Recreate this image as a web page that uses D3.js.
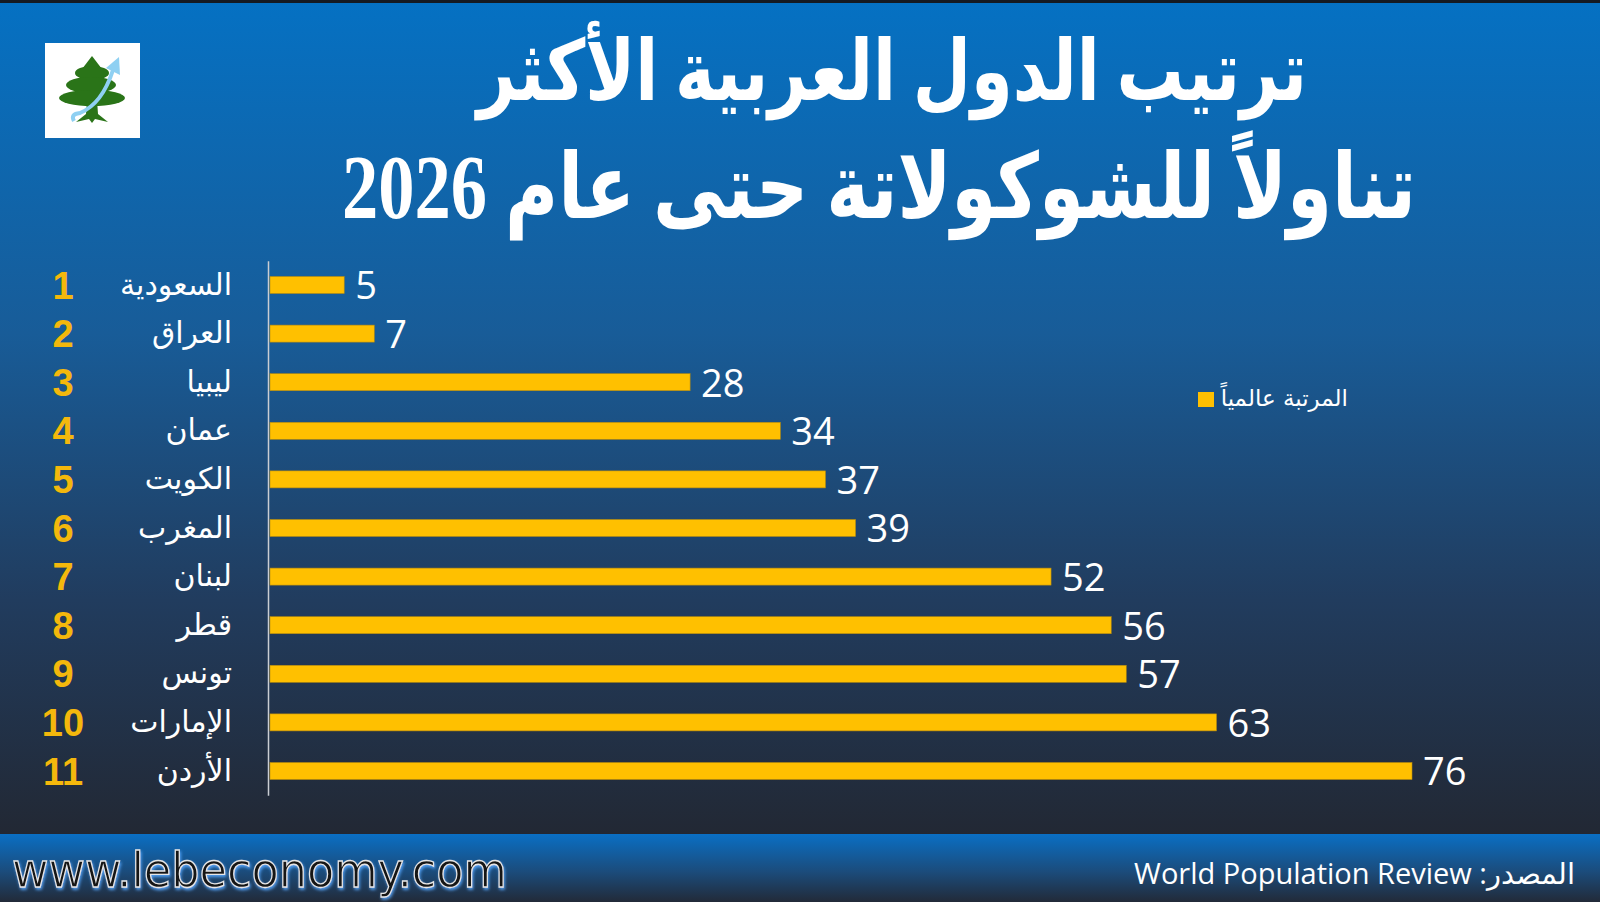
<!DOCTYPE html>
<html>
<head>
<meta charset="utf-8">
<script src="https://cdn.jsdelivr.net/npm/d3@7"></script>
<style>
  body { margin: 0; background: #222a36; }
  svg { display: block; }
</style>
</head>
<body>
<div id="my_dataviz"></div>
<script>
// chart data
const countries = ["السعودية", "العراق", "ليبيا", "عمان", "الكويت", "المغرب", "لبنان", "قطر", "تونس", "الإمارات", "الأردن"];
const ranks = [1, 2, 3, 4, 5, 6, 7, 8, 9, 10, 11];
const worldRank = [5, 7, 28, 34, 37, 39, 52, 56, 57, 63, 76];
const seriesName = "المرتبة عالمياً";
const titleLines = ["ترتيب الدول العربية الأكثر", "تناولاً للشوكولاتة حتى عام 2026"];
const sourceText = "المصدر: World Population Review";
const siteText = "www.lebeconomy.com";

const W = 1600, H = 902;
const gold = "#ffc000";

const svg = d3.select("#my_dataviz")
  .append("svg")
    .attr("width", W)
    .attr("height", H);

// gradients + glow
const defs = svg.append("defs");
const bg = defs.append("linearGradient").attr("id", "bg").attr("x1", 0).attr("y1", 0).attr("x2", 0).attr("y2", 1);
bg.append("stop").attr("offset", "0%").attr("stop-color", "#0571c3");
bg.append("stop").attr("offset", "40%").attr("stop-color", "#185c98");
bg.append("stop").attr("offset", "72%").attr("stop-color", "#213c5e");
bg.append("stop").attr("offset", "100%").attr("stop-color", "#222834");
const foot = defs.append("linearGradient").attr("id", "foot").attr("x1", 0).attr("y1", 0).attr("x2", 0).attr("y2", 1);
foot.append("stop").attr("offset", "0%").attr("stop-color", "#0a6fc4");
foot.append("stop").attr("offset", "55%").attr("stop-color", "#1b4c7c");
foot.append("stop").attr("offset", "100%").attr("stop-color", "#222a38");
const glow = defs.append("filter").attr("id", "glow").attr("x", "-5%").attr("y", "-30%").attr("width", "110%").attr("height", "160%");
glow.append("feDropShadow").attr("dx", 1).attr("dy", 2).attr("stdDeviation", 1.5).attr("flood-color", "#5aa9ff").attr("flood-opacity", 0.9);

svg.append("rect").attr("width", W).attr("height", 834).attr("fill", "url(#bg)");
svg.append("rect").attr("width", W).attr("height", 3).attr("fill", "#151a22");
svg.append("rect").attr("y", 834).attr("width", W).attr("height", H - 834).attr("fill", "url(#foot)");

// logo (cedar with arrow)
const logo = svg.append("g");
logo.append("rect").attr("x", 45).attr("y", 43).attr("width", 95).attr("height", 95).attr("fill", "#ffffff");
const green = "#2a7418";
logo.append("path").attr("d", "M92,56 L102,69 L82,69 Z").attr("fill", green);
logo.append("ellipse").attr("cx", 92).attr("cy", 73).attr("rx", 17).attr("ry", 7).attr("fill", green);
logo.append("ellipse").attr("cx", 91).attr("cy", 85).attr("rx", 25).attr("ry", 8).attr("fill", green);
logo.append("ellipse").attr("cx", 92).attr("cy", 98).attr("rx", 33).attr("ry", 8).attr("fill", green);
logo.append("path").attr("d", "M87,100 L97,100 L98,114 L108,122 L95,119 L92,123 L89,119 L76,122 L86,114 Z").attr("fill", green);
logo.append("path").attr("d", "M74,121 Q70,114 80,113 Q102,104 113,70")
  .attr("fill", "none").attr("stroke", "#8fd0f2").attr("stroke-width", 4);
logo.append("path").attr("d", "M119,57 L120,75 L106,68 Z").attr("fill", "#8fd0f2");

// title, each line sized to the width it takes in the picture, stretched a bit in height
const titlePos = [{x: 892, y: 100, w: 830}, {x: 879, y: 218, w: 1074}];
svg.append("g")
  .attr("fill", "#ffffff")
  .style("font-family", "'Liberation Serif', 'DejaVu Sans', serif")
  .style("font-weight", "bold")
  .selectAll("g")
  .data(titleLines)
  .join("g")
    .attr("transform", (d, i) => `translate(${titlePos[i].x},${titlePos[i].y}) scale(1,1.25)`)
  .append("text")
    .attr("direction", "rtl")
    .attr("text-anchor", "middle")
    .style("font-size", "90px")
    .text(d => d)
    .each(function(d, i) {
      const len = this.getComputedTextLength();
      const fs = Math.min(104, 90 * titlePos[i].w / len);
      d3.select(this).style("font-size", fs + "px");
    });

// scales
const x = d3.scaleLinear()
  .domain([0, 76])
  .range([269, 1412]);

const y = d3.scaleBand()
  .domain(countries)
  .range([260.7, 795.3])
  .paddingInner(0.65)
  .paddingOuter(0.325);

// Y axis with the country names
const yAxis = svg.append("g")
  .attr("transform", "translate(268,0)")
  .call(d3.axisLeft(y).tickSize(0).tickPadding(36));
yAxis.select(".domain").attr("stroke", "#c9cdd3").attr("stroke-width", 1.5);
yAxis.selectAll("text")
  .attr("fill", "#ffffff")
  .style("font-family", "'DejaVu Sans', 'Liberation Sans', sans-serif")
  .style("font-size", "30px");

// rank numbers
svg.append("g")
  .selectAll("text")
  .data(countries)
  .join("text")
    .attr("x", 63)
    .attr("y", d => y(d) + y.bandwidth() / 2)
    .attr("dy", "0.36em")
    .attr("text-anchor", "middle")
    .attr("fill", "#f4b80c")
    .style("font-family", "'Liberation Sans', Arial, sans-serif")
    .style("font-weight", "bold")
    .style("font-size", "38px")
    .text((d, i) => ranks[i]);

// bars
svg.append("g")
  .selectAll("rect")
  .data(countries)
  .join("rect")
    .attr("x", x(0) + 1)
    .attr("y", d => y(d))
    .attr("width", (d, i) => x(worldRank[i]) - x(0) - 1)
    .attr("height", y.bandwidth())
    .attr("fill", gold)
    .attr("stroke", "#b58a10")
    .attr("stroke-width", 0.6);

// value labels
svg.append("g")
  .selectAll("text")
  .data(countries)
  .join("text")
    .attr("x", (d, i) => x(worldRank[i]) + 11)
    .attr("y", d => y(d) + y.bandwidth() / 2)
    .attr("dy", "0.38em")
    .attr("fill", "#ffffff")
    .style("font-family", "'Open Sans', sans-serif")
    .style("font-size", "38px")
    .text((d, i) => worldRank[i]);

// Handmade legend
svg.append("rect").attr("x", 1198).attr("y", 392).attr("width", 16).attr("height", 15).attr("fill", gold);
svg.append("text")
  .attr("x", 1348).attr("y", 406)
  .attr("text-anchor", "end")
  .attr("fill", "#ffffff")
  .style("font-family", "'DejaVu Sans', 'Liberation Sans', sans-serif")
  .style("font-size", "23px")
  .text(seriesName);

// footer
svg.append("text")
  .attr("x", 12).attr("y", 887)
  .attr("textLength", 495).attr("lengthAdjust", "spacingAndGlyphs")
  .attr("fill", "#141414")
  .attr("stroke", "#e6e6e6")
  .attr("stroke-width", 1.3)
  .attr("filter", "url(#glow)")
  .style("font-family", "'DejaVu Sans', sans-serif")
  .style("font-size", "48px")
  .text(siteText);

svg.append("text")
  .attr("x", 1575).attr("y", 884)
  .attr("direction", "rtl")
  .attr("text-anchor", "start")
  .attr("fill", "#ffffff")
  .style("font-family", "'Open Sans', 'DejaVu Sans', sans-serif")
  .style("font-size", "29px")
  .text(sourceText);
</script>
</body>
</html>
